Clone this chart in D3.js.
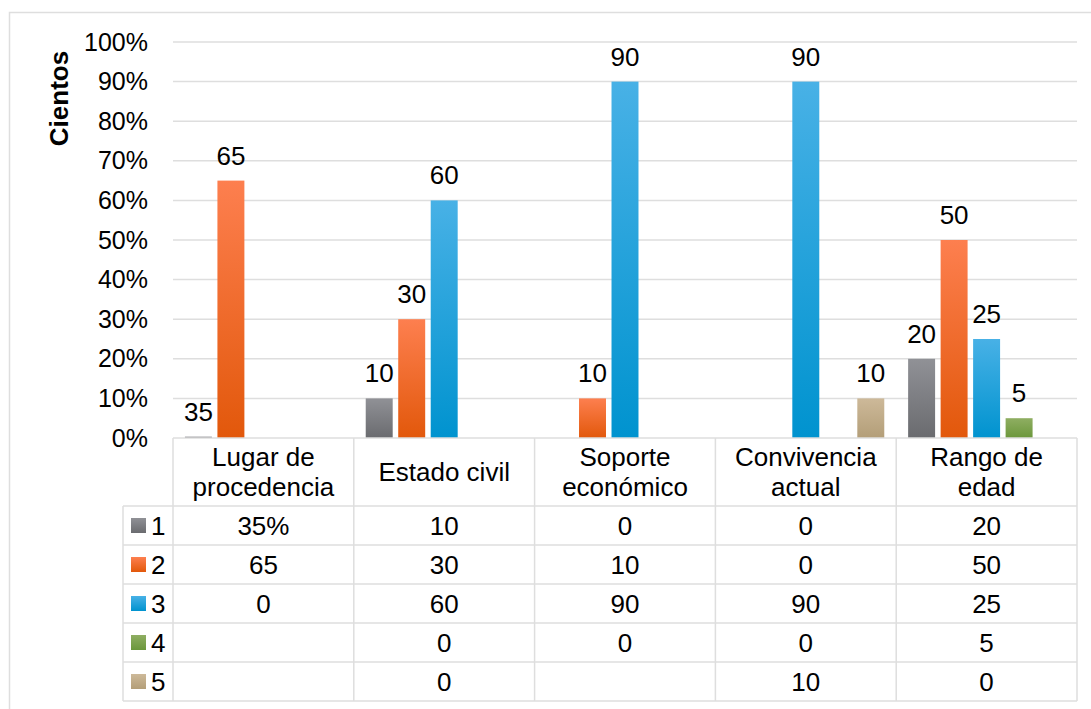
<!DOCTYPE html>
<html><head><meta charset="utf-8">
<script src="https://cdn.jsdelivr.net/npm/d3@7"></script>
<style>
html,body{margin:0;padding:0;background:#fff;}
svg{display:block;font-family:"Liberation Sans",Arial,sans-serif;}
</style></head>
<body><svg id="c" width="1091" height="709"></svg>
<script>
// ---- data ----
const categories = [["Lugar de","procedencia"],["Estado civil"],["Soporte","económico"],["Convivencia","actual"],["Rango de","edad"]];
const seriesNames = ["1","2","3","4","5"];
const s1 = [0.35, 10, 0, 0, 20];
const s2 = [65, 30, 10, 0, 50];
const s3 = [0, 60, 90, 90, 25];
const s4 = [null, 0, 0, 0, 5];
const s5 = [null, 0, null, 10, 0];
const s1Labels = ["35","10","0","0","20"];
const s1Table = ["35%","10","0","0","20"];
const yTicks = [0,10,20,30,40,50,60,70,80,90,100];
const yTitle = "Cientos";

const seriesValues = [s1, s2, s3, s4, s5];
const colors = [
  ["#909196","#6a6b6f"],
  ["#fd7f4f","#e2580b"],
  ["#48b1e6","#0093cf"],
  ["#8fae62","#6b973b"],
  ["#cdb999","#b39e78"]
];

const svg = d3.select("#c");
const defs = svg.append("defs");
colors.forEach((c,i)=>{
  const g = defs.append("linearGradient").attr("id","g"+i).attr("x1",0).attr("y1",0).attr("x2",0).attr("y2",1);
  g.append("stop").attr("offset","0%").attr("stop-color",c[0]);
  g.append("stop").attr("offset","100%").attr("stop-color",c[1]);
});

const L = 173, R = 1077, T = 42, B = 438;
const x0 = d3.scaleBand().domain(d3.range(categories.length)).range([L,R]);
const x1 = d3.scaleBand().domain(d3.range(seriesNames.length)).range([0,x0.bandwidth()]).paddingInner(0.17).paddingOuter(0.367);
const y = d3.scaleLinear().domain([0,100]).range([B,T]);
const rowY = d3.scaleBand().domain(d3.range(seriesNames.length)).range([506,701]);

const lineCol = "#dedede";
// outer border
svg.append("rect").attr("x",9.5).attr("y",12.5).attr("width",1200).attr("height",800)
  .attr("fill","none").attr("stroke",lineCol).attr("stroke-width",1.5);

// gridlines
svg.append("g").selectAll("line").data(yTicks.filter(t=>t>0)).join("line")
  .attr("x1",L).attr("x2",R).attr("y1",d=>y(d)).attr("y2",d=>y(d))
  .attr("stroke",lineCol).attr("stroke-width",1.5);

// y axis
const ax = svg.append("g").attr("transform",`translate(${L},0)`)
  .call(d3.axisLeft(y).tickValues(yTicks).tickFormat(d=>d+"%").tickSize(0).tickPadding(25));
ax.select(".domain").remove();
ax.selectAll("text").attr("font-size",25).attr("fill","#000").attr("font-family","Liberation Sans, Arial, sans-serif");

svg.append("text").attr("transform","translate(58.5,98.5) rotate(-90)")
  .attr("text-anchor","middle").attr("dominant-baseline","central")
  .attr("font-size",26).attr("font-weight","bold").text(yTitle);

// bars
const barData = [];
seriesValues.forEach((arr,si)=>arr.forEach((v,ci)=>{
  if (v !== null) barData.push({si,ci,v,label: si===0 ? s1Labels[ci] : String(v)});
}));
svg.append("g").selectAll("rect").data(barData.filter(d=>d.v>0)).join("rect")
  .attr("x",d=>x0(d.ci)+x1(d.si)).attr("width",x1.bandwidth())
  .attr("y",d=>y(d.v)).attr("height",d=>B-y(d.v))
  .attr("fill",d=>`url(#g${d.si})`);
svg.append("g").selectAll("text").data(barData.filter(d=>d.v>0)).join("text")
  .attr("x",d=>x0(d.ci)+x1(d.si)+x1.bandwidth()/2).attr("y",d=>y(d.v)-16)
  .attr("text-anchor","middle").attr("font-size",26).attr("fill","#000").text(d=>d.label);

// table lines
const tl = svg.append("g").attr("stroke",lineCol).attr("stroke-width",1.5);
tl.append("line").attr("x1",L).attr("x2",R).attr("y1",B).attr("y2",B);
const hRows = [rowY.range()[0]].concat(d3.range(seriesNames.length).map(i=>rowY(i)+rowY.bandwidth()));
tl.selectAll(".h").data(hRows).join("line").attr("class","h")
  .attr("x1",123).attr("x2",R).attr("y1",d=>d).attr("y2",d=>d);
tl.append("line").attr("x1",123).attr("x2",123).attr("y1",506).attr("y2",701);
const vx = d3.range(categories.length).map(i=>x0(i)).concat([R]);
tl.selectAll(".v").data(vx).join("line").attr("class","v")
  .attr("x1",d=>d).attr("x2",d=>d).attr("y1",B).attr("y2",701);

// header text
const hdr = svg.append("g").attr("font-size",26).attr("fill","#000").attr("text-anchor","middle");
categories.forEach((lines,ci)=>{
  const cx = x0(ci)+x0.bandwidth()/2;
  const n = lines.length;
  lines.forEach((t,li)=>{
    hdr.append("text").attr("x",cx).attr("y",472 + (li-(n-1)/2)*30 + 9.3).text(t);
  });
});

// legend column + values
const body = svg.append("g").attr("font-size",26).attr("fill","#000");
seriesNames.forEach((s,si)=>{
  const cy = rowY(si)+rowY.bandwidth()/2;
  body.append("rect").attr("x",131).attr("y",cy-7.5).attr("width",15).attr("height",15).attr("fill",`url(#g${si})`);
  body.append("text").attr("x",151).attr("y",cy+9.3).text(s);
  seriesValues[si].forEach((v,ci)=>{
    if (v===null) return;
    const t = si===0 ? s1Table[ci] : String(v);
    body.append("text").attr("x",x0(ci)+x0.bandwidth()/2).attr("y",cy+9.3).attr("text-anchor","middle").text(t);
  });
});
</script></body></html>
